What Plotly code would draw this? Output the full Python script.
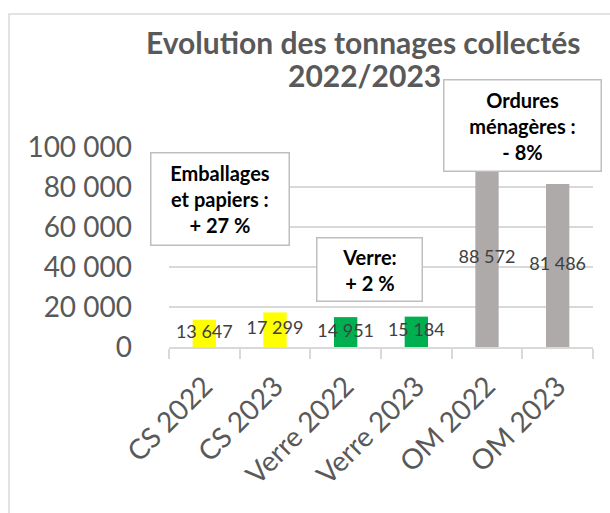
import plotly.graph_objects as go

categories = ["CS 2022", "CS 2023", "Verre 2022", "Verre 2023", "OM 2022", "OM 2023"]
tonnages = [13647, 17299, 14951, 15184, 88572, 81486]
bar_colors = ["#FFFF00", "#FFFF00", "#00B050", "#00B050", "#AEAAAA", "#AEAAAA"]
y_ticks = [0, 20000, 40000, 60000, 80000, 100000]

title_lines = ["Evolution des tonnages collectés", "2022/2023"]
callouts = [
    "Emballages<br>et papiers :<br>+ 27 %",
    "Verre:<br>+ 2 %",
    "Ordures<br>ménagères :<br>- 8%",
]

W, H = 610, 513
L, R, T, B = 169, 17, 147, 166
PW, PH = W - L - R, H - T - B


def px(x):
    return (x - L) / PW


def py(y):
    return (H - B - y) / PH


def fmt(v):
    return f"{v:,}".replace(",", " ")


FONT = "Lato"
GREY = "#595959"

fig = go.Figure()
fig.add_trace(go.Bar(
    x=categories, y=tonnages, marker=dict(color=bar_colors, line=dict(width=0)),
    hoverinfo="skip", showlegend=False,
))
fig.add_trace(go.Scatter(
    x=categories, y=[v / 2 for v in tonnages], mode="text",
    text=[fmt(v) for v in tonnages], textposition="middle center",
    textfont=dict(family=FONT, size=18, color="#404040"),
    hoverinfo="skip", showlegend=False, cliponaxis=False,
))

annotations = [
    dict(x=px(363), y=py(42), xref="paper", yref="paper", text=f"<b>{title_lines[0]}</b>",
         xanchor="center", yanchor="middle",
         showarrow=False, font=dict(family=FONT, size=30, color=GREY)),
    dict(x=px(364), y=py(75), xref="paper", yref="paper", text=f"<b>{title_lines[1]}</b>",
         xanchor="center", yanchor="middle",
         showarrow=False, font=dict(family=FONT, size=30, color=GREY)),
]
boxes = [
    (callouts[0], 220, 199, 140, 94),
    (callouts[1], 369.5, 269.5, 107, 65),
    (callouts[2], 522.5, 125.5, 159, 93),
]
for txt, cx, cy, bw, bh in boxes:
    annotations.append(dict(
        x=px(cx), y=py(cy), xref="paper", yref="paper", text=f"<b>{txt}</b>",
        xanchor="center", yanchor="middle",
        showarrow=False, font=dict(family=FONT, size=20, color="#000000"),
        bgcolor="#FFFFFF", bordercolor="#BFBFBF", borderwidth=1.5, borderpad=0,
        width=bw - 3, height=bh - 3, align="center", valign="middle",
    ))

fig.update_layout(
    width=W, height=H,
    margin=dict(l=L, r=R, t=T, b=B, pad=0),
    paper_bgcolor="#FFFFFF", plot_bgcolor="#FFFFFF",
    separators=", ",
    bargap=0.67,
    annotations=annotations,
    shapes=[dict(type="rect", xref="paper", yref="paper",
                 x0=px(9), y0=py(14), x1=px(W + 20), y1=py(H + 20),
                 line=dict(color="#D9D9D9", width=1.5), fillcolor="rgba(0,0,0,0)",
                 layer="below")],
    xaxis=dict(
        type="category", tickangle=-45, showgrid=False,
        showline=True, linecolor="#D9D9D9", linewidth=1.5,
        ticks="outside", tickson="boundaries", ticklen=10, tickcolor="#D9D9D9", tickwidth=1.5,
        tickfont=dict(family=FONT, size=28, color=GREY),
        ticklabelstandoff=10,
        fixedrange=True,
    ),
    yaxis=dict(
        range=[0, 100000], tickvals=y_ticks, tickformat=",d",
        showgrid=True, gridcolor="#D9D9D9", gridwidth=1.5,
        zeroline=False, showline=False, ticks="",
        tickfont=dict(family=FONT, size=28, color=GREY),
        ticklabelstandoff=36, fixedrange=True,
    ),
)

fig.write_html("out.html")
